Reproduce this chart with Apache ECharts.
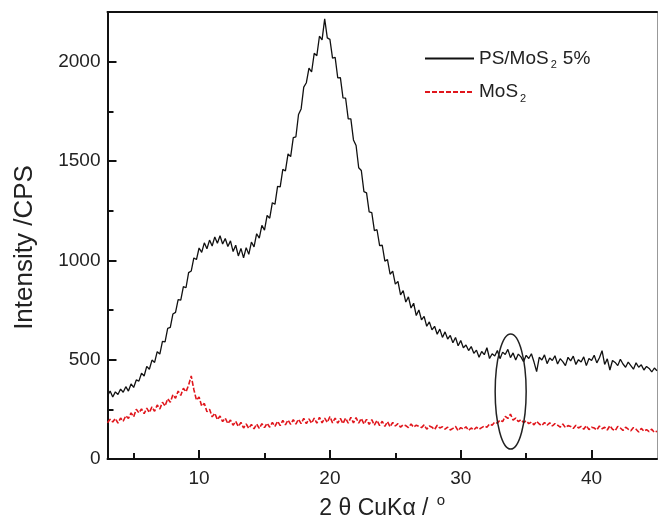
<!DOCTYPE html>
<html>
<head>
<meta charset="utf-8">
<script src="https://cdn.jsdelivr.net/npm/echarts@6/dist/echarts.min.js"></script>
<style>
html,body{margin:0;padding:0;background:#fff;}
#chart{width:658px;height:517px;}
</style>
</head>
<body>
<div id="chart"></div>
<script>
// 2θ sampling grid (degrees)
const thetaStart = 3.0;
const thetaStep = 0.2;

// PS/MoS2 5% intensity (CPS), read every 0.2° from 3.0° to 45.0°
const psMos2 = [
  318,342,312,338,325,352,336,364,342,378,
  360,398,392,432,418,466,452,498,486,540,
  528,592,590,658,662,730,738,802,800,868,
  862,938,946,1012,1004,1062,1040,1088,1058,1102,
  1072,1118,1086,1124,1082,1110,1070,1098,1044,1076,
  1022,1060,1012,1064,1030,1092,1068,1134,1112,1176,
  1152,1226,1212,1290,1282,1372,1370,1458,1450,1536,
  1522,1618,1622,1734,1762,1872,1894,1968,1948,2042,
  2030,2128,2110,2215,2120,2112,2018,2022,1918,1920,
  1818,1816,1712,1712,1606,1578,1466,1452,1346,1340,
  1244,1240,1150,1154,1074,1076,996,1004,930,946,
  880,894,826,848,790,816,760,784,722,750,
  700,718,668,690,650,668,628,654,612,640,
  604,622,585,612,570,596,560,574,546,566,
  532,548,512,541,525,560,506,530,518,546,
  505,538,526,552,510,534,498,528,514,490,
  522,506,530,488,440,512,498,524,480,508,
  496,520,478,505,490,470,512,494,518,476,
  500,488,514,470,506,496,522,484,510,545,
  476,504,448,496,486,470,502,478,462,488,
  470,452,484,462,474,448,466,456,438,458,
  444
];

// MoS2 intensity (CPS), same grid
const mos2 = [
  182,200,186,204,180,206,190,218,204,232,
  212,250,232,252,228,256,234,262,240,272,
  252,286,266,304,286,324,306,342,320,356,
  338,372,418,350,296,312,266,280,238,250,
  212,230,198,216,188,206,178,196,170,190,
  164,184,156,176,154,174,152,176,154,178,
  158,180,160,184,164,190,168,194,172,196,
  174,198,176,200,178,204,178,202,180,206,
  180,210,182,206,184,214,182,206,180,204,
  178,206,180,210,182,208,180,204,176,200,
  174,198,170,194,168,190,164,188,162,184,
  166,178,160,172,168,158,176,160,170,164,
  158,172,150,166,160,148,170,156,162,150,
  160,146,154,164,142,158,150,162,144,156,
  146,160,150,158,166,160,176,170,186,180,
  196,188,214,204,226,196,206,188,198,184,
  192,178,186,172,190,176,168,184,170,182,
  166,178,170,160,176,158,168,164,154,170,
  156,164,150,168,148,160,156,146,166,152,
  160,146,168,150,142,164,156,144,160,150,
  142,158,150,136,154,140,148,138,150,134,
  140
];

// axis ticks
const xMajorTicks = [10, 20, 30, 40];
const xMinorTicks = [5, 15, 25, 35];
const seriesNames = ['PS/MoS2 5%', 'MoS2'];

// highlighted region (ellipse) in data units: [x1, x2, y1, y2]
const ellipseBox = [32.63, 35.0, 50, 629];

function pairs(vals) {
  const out = [];
  for (let i = 0; i < vals.length; i++) {
    out.push([+(thetaStart + i * thetaStep).toFixed(2), vals[i]]);
  }
  return out;
}

const FONT = '"Liberation Sans", Arial, sans-serif';
const chart = echarts.init(document.getElementById('chart'), null, {renderer: 'canvas'});

const option = {
  backgroundColor: '#ffffff',
  animation: false,
  grid: {left: 107.5, right: 1, top: 12, bottom: 58, containLabel: false, outerBoundsMode: 'none'},
  legend: {
    orient: 'vertical',
    left: 419, top: 44,
    itemWidth: 49, itemHeight: 10, itemGap: 12,
    itemStyle: {opacity: 0},
    data: seriesNames,
    textStyle: {
      fontFamily: FONT, fontSize: 19, color: '#222',
      rich: {
        a: {fontFamily: FONT, fontSize: 19, color: '#222'},
        s: {fontFamily: FONT, fontSize: 11, color: '#222', padding: [13, 6, 0, 2]}
      }
    },
    formatter: function (name) {
      if (name === 'MoS2') return '{a|MoS}{s|2}';
      return '{a|PS/MoS}{s|2}{a|5%}';
    }
  },
  xAxis: [
    {
      type: 'value', min: 3, max: 45, position: 'bottom',
      name: '{a|2 θ CuKα / }{s|o}',
      nameLocation: 'middle', nameGap: 34,
      nameTextStyle: {
        rich: {
          a: {fontFamily: FONT, fontSize: 23, color: '#222'},
          s: {fontFamily: FONT, fontSize: 15, color: '#222', padding: [0, 0, 16, 2]}
        }
      },
      axisLine: {show: true, onZero: false, lineStyle: {color: '#111', width: 2}},
      axisTick: {show: true, inside: true, length: 9, lineStyle: {color: '#111', width: 2}, customValues: xMajorTicks},
      axisLabel: {fontFamily: FONT, fontSize: 19, color: '#222', margin: 10, customValues: xMajorTicks,
        formatter: function (v) { return String(v); }},
      splitLine: {show: false}
    },
    {
      type: 'value', min: 3, max: 45, position: 'bottom',
      axisLine: {show: false},
      axisTick: {show: true, inside: true, length: 6, lineStyle: {color: '#111', width: 2}, customValues: xMinorTicks},
      axisLabel: {show: false, customValues: xMinorTicks},
      splitLine: {show: false}
    },
    {
      type: 'value', min: 3, max: 45, position: 'top',
      axisLine: {show: true, onZero: false, lineStyle: {color: '#111', width: 2}},
      axisTick: {show: false}, axisLabel: {show: false}, splitLine: {show: false}
    }
  ],
  yAxis: [
    {
      type: 'value', min: 0, max: 2250, interval: 500, position: 'left',
      name: 'Intensity /CPS', nameLocation: 'middle', nameGap: 70,
      nameTextStyle: {fontFamily: FONT, fontSize: 26, color: '#222', padding: [0, 24, 0, 0]},
      axisLine: {show: true, onZero: false, lineStyle: {color: '#111', width: 2}},
      axisTick: {show: true, inside: true, length: 9, lineStyle: {color: '#111', width: 2}},
      minorTick: {show: true, splitNumber: 2, length: 6, lineStyle: {color: '#111', width: 2}},
      axisLabel: {fontFamily: FONT, fontSize: 19, color: '#222', margin: 7, showMaxLabel: false,
        formatter: function (v) { return String(v); }},
      splitLine: {show: false}, minorSplitLine: {show: false}
    },
    {
      type: 'value', min: 0, max: 2250, position: 'right',
      axisLine: {show: true, onZero: false, lineStyle: {color: '#999', width: 1}},
      axisTick: {show: false}, axisLabel: {show: false}, splitLine: {show: false}
    }
  ],
  series: [
    {
      name: seriesNames[0], type: 'line', xAxisIndex: 0, yAxisIndex: 0,
      data: pairs(psMos2), showSymbol: false, symbol: 'none',
      lineStyle: {color: '#111', width: 1.3}, itemStyle: {color: '#111'}
    },
    {
      name: seriesNames[1], type: 'line', xAxisIndex: 0, yAxisIndex: 0,
      data: pairs(mos2), showSymbol: false, symbol: 'none',
      lineStyle: {color: '#e0161c', width: 1.6, type: [5, 2]}, itemStyle: {color: '#e0161c'}
    }
  ]
};
chart.setOption(option);

function drawEllipse() {
  const p1 = chart.convertToPixel({xAxisIndex: 0, yAxisIndex: 0}, [ellipseBox[0], ellipseBox[2]]);
  const p2 = chart.convertToPixel({xAxisIndex: 0, yAxisIndex: 0}, [ellipseBox[1], ellipseBox[3]]);
  chart.setOption({
    graphic: [{
      type: 'ellipse', id: 'mark',
      shape: {cx: (p1[0] + p2[0]) / 2, cy: (p1[1] + p2[1]) / 2, rx: Math.abs(p2[0] - p1[0]) / 2, ry: Math.abs(p2[1] - p1[1]) / 2},
      style: {fill: null, stroke: '#222', lineWidth: 1.5},
      z: 10
    }]
  });
}
drawEllipse();
</script>
</body>
</html>
